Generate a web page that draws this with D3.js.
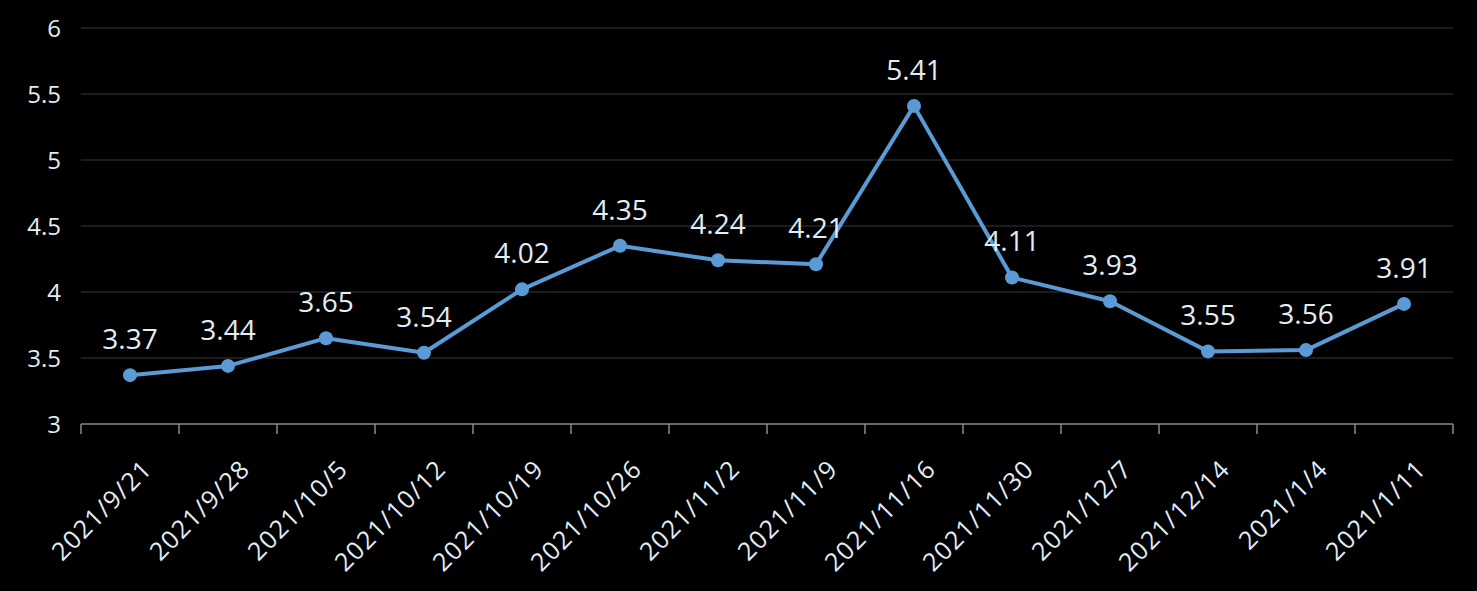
<!DOCTYPE html>
<html>
<head>
<meta charset="utf-8">
<script src="https://cdn.jsdelivr.net/npm/d3@7"></script>
<style>
html,body{margin:0;padding:0;background:#000;}
svg{display:block;}
text{font-family:"Open Sans","Noto Sans",sans-serif;fill:#e4ecf4;}
</style>
</head>
<body>
<svg id="chart" width="1477" height="591"></svg>
<script>
const categories = ["2021/9/21","2021/9/28","2021/10/5","2021/10/12","2021/10/19","2021/10/26","2021/11/2","2021/11/9","2021/11/16","2021/11/30","2021/12/7","2021/12/14","2021/1/4","2021/1/11"];
const values = [3.37,3.44,3.65,3.54,4.02,4.35,4.24,4.21,5.41,4.11,3.93,3.55,3.56,3.91];
const yTicks = [3,3.5,4,4.5,5,5.5,6];

const W = 1477, H = 591;
const margin = {left:81, right:24, top:28, bottom:167};
const svg = d3.select("#chart");

const x = d3.scaleBand().domain(categories).range([margin.left, W - margin.right]).padding(0);
const y = d3.scaleLinear().domain([3,6]).range([H - margin.bottom, margin.top]);

// gridlines
svg.append("g").selectAll("line").data(yTicks.filter(d => d > 3)).join("line")
  .attr("x1", margin.left).attr("x2", W - margin.right)
  .attr("y1", d => y(d)).attr("y2", d => y(d))
  .attr("stroke", "#262626").attr("stroke-width", 1.5);

// y labels
svg.append("g").selectAll("text").data(yTicks).join("text")
  .attr("x", 61).attr("y", d => y(d)).attr("dy", "0.36em")
  .attr("text-anchor", "end").style("font-size", "24px")
  .text(d => d);

// x axis line
const baseY = y(3);
svg.append("line").attr("x1", margin.left).attr("x2", W - margin.right)
  .attr("y1", baseY).attr("y2", baseY).attr("stroke", "#8a8a8a").attr("stroke-width", 1.5);

// ticks at category boundaries
const bounds = categories.map(c => x(c)).concat([x(categories[categories.length-1]) + x.bandwidth()]);
svg.append("g").selectAll("line").data(bounds).join("line")
  .attr("x1", d => d).attr("x2", d => d)
  .attr("y1", baseY).attr("y2", baseY + 10)
  .attr("stroke", "#8a8a8a").attr("stroke-width", 1.5);

// x labels
svg.append("g").selectAll("text").data(categories).join("text")
  .attr("transform", d => `translate(${x(d) + x.bandwidth()/2 + 11},${baseY + 34}) rotate(-45)`)
  .attr("dy", "0.71em")
  .attr("text-anchor", "end").style("font-size", "25px").style("letter-spacing", "1.2px")
  .text(d => d);

// line
const cx = d => x(d) + x.bandwidth()/2;
const line = d3.line().x((d,i) => cx(categories[i])).y(d => y(d));
svg.append("path").datum(values).attr("d", line)
  .attr("fill", "none").attr("stroke", "#5b9bd5").attr("stroke-width", 4)
  .attr("stroke-linejoin", "round");

svg.append("g").selectAll("circle").data(values).join("circle")
  .attr("cx", (d,i) => cx(categories[i])).attr("cy", d => y(d)).attr("r", 7)
  .attr("fill", "#5b9bd5");

// data labels
svg.append("g").selectAll("text").data(values).join("text")
  .attr("x", (d,i) => cx(categories[i])).attr("y", d => y(d) - 26)
  .attr("text-anchor", "middle").style("font-size", "28px")
  .text(d => d.toFixed(2));
</script>
</body>
</html>
